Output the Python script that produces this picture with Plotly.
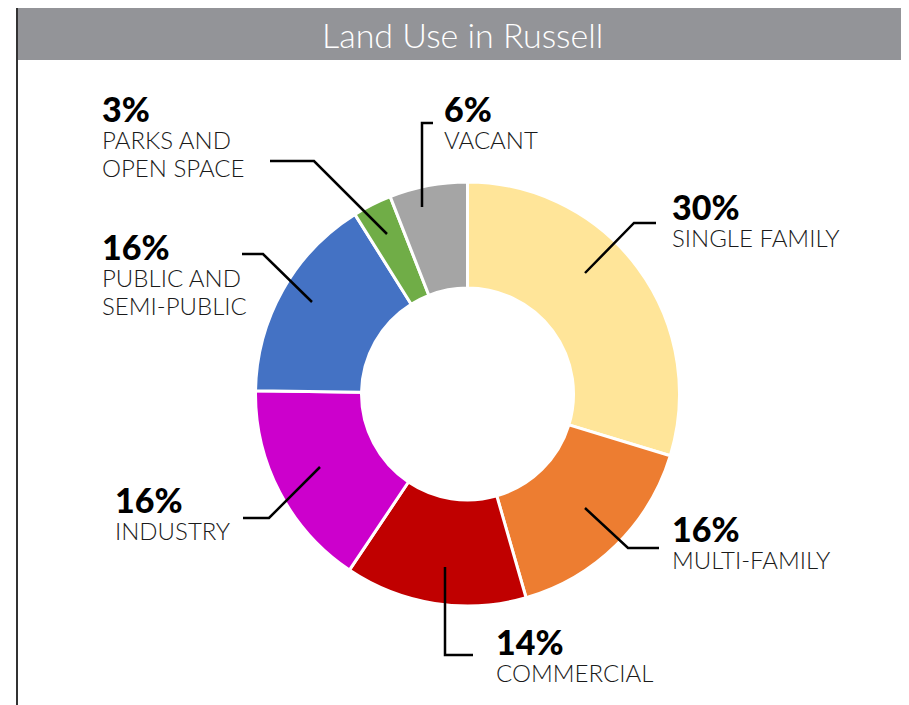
import plotly.graph_objects as go

# ---- data ----
categories = ["SINGLE FAMILY", "MULTI-FAMILY", "COMMERCIAL", "INDUSTRY",
              "PUBLIC AND<br>SEMI-PUBLIC", "PARKS AND<br>OPEN SPACE", "VACANT"]
values = [30, 16, 14, 16, 16, 3, 6]
colors = ["#FFE599", "#ED7D31", "#C00000", "#CC00CC", "#4472C4", "#70AD47", "#A5A5A5"]
title_text = "Land Use in Russell"

W, H = 909, 705
OFF = 8  # page body margin


def px(x, y):
    """screen pixel -> paper coords"""
    return (x - OFF) / W, 1 - (y - OFF) / H


# donut geometry (screen pixels)
cx, cy, r = 467.5, 394, 212
dom_x = [(cx - OFF - r) / W, (cx - OFF + r) / W]
dom_y = [(H - (cy - OFF) - r) / H, (H - (cy - OFF) + r) / H]

fig = go.Figure(go.Pie(
    labels=[c.replace("<br>", " ") for c in categories],
    values=values,
    hole=0.5,
    sort=False,
    direction="clockwise",
    rotation=0,
    marker=dict(colors=colors, line=dict(color="white", width=3)),
    textinfo="none",
    hoverinfo="label+percent",
    showlegend=False,
    domain=dict(x=dom_x, y=dom_y),
))

shapes = []
# title bar
bx0, by1 = px(17, 7)
bx1, by0 = px(906, 60)
shapes.append(dict(type="rect", xref="paper", yref="paper",
                   x0=bx0, x1=bx1, y0=by0, y1=by1,
                   fillcolor="#939498", line=dict(width=0), layer="below"))
# frame
frame_path = "M {},{} L {},{} L {},{} L {},{}".format(
    *px(17, 720), *px(17, 6.5), *px(905.5, 6.5), *px(905.5, 720))
shapes.append(dict(type="path", xref="paper", yref="paper", path=frame_path,
                   line=dict(color="#333333", width=2)))

# leader lines (screen pixel positions)
leaders = [
    [(656, 223), (634, 223), (585, 273)],   # single family
    [(659, 548), (628, 548), (585, 508)],   # multi-family
    [(473, 655), (445, 655), (445, 567)],   # commercial
    [(243, 518), (269, 518), (320, 467)],   # industry
    [(242, 254), (263, 254), (312, 302)],   # public
    [(270, 161), (314, 161), (387, 234)],   # parks
    [(433, 123), (422, 123), (422, 207)],   # vacant
]
for pts in leaders:
    p = "M " + " L ".join("{},{}".format(*px(x, y)) for x, y in pts)
    shapes.append(dict(type="path", xref="paper", yref="paper", path=p,
                       line=dict(color="black", width=2.5)))

# label layout (screen pixel positions of left edge / center of percent line)
label_pos = [(670, 208), (670, 530), (494, 643), (113, 501), (100, 248), (100, 110), (442, 110)]

tx, ty = px(462, 35)
annotations = [dict(text=title_text, x=tx, y=ty, xref="paper", yref="paper",
                    showarrow=False, xanchor="center", yanchor="middle",
                    font=dict(family="Lato", size=34, color="white", weight=300))]
for cat, v, (lx, ly) in zip(categories, values, label_pos):
    ax, ay = px(lx, ly - 24)
    lines = ["<span style='font-size:34px;font-weight:900;color:black'>" + f"{v}%" + "</span>"]
    lines += ["<span style='font-size:24px'>" + t + "</span>" for t in cat.split("<br>")]
    annotations.append(dict(text="<br>".join(lines), x=ax, y=ay, xref="paper", yref="paper",
                            showarrow=False, xanchor="left", yanchor="top", align="left",
                            font=dict(family="Lato", size=21, color="#1a1a1a", weight=300)))

fig.update_layout(
    width=W, height=H,
    margin=dict(l=0, r=0, t=0, b=0),
    paper_bgcolor="white", plot_bgcolor="white",
    shapes=shapes, annotations=annotations,
)

fig.write_html("out.html")
